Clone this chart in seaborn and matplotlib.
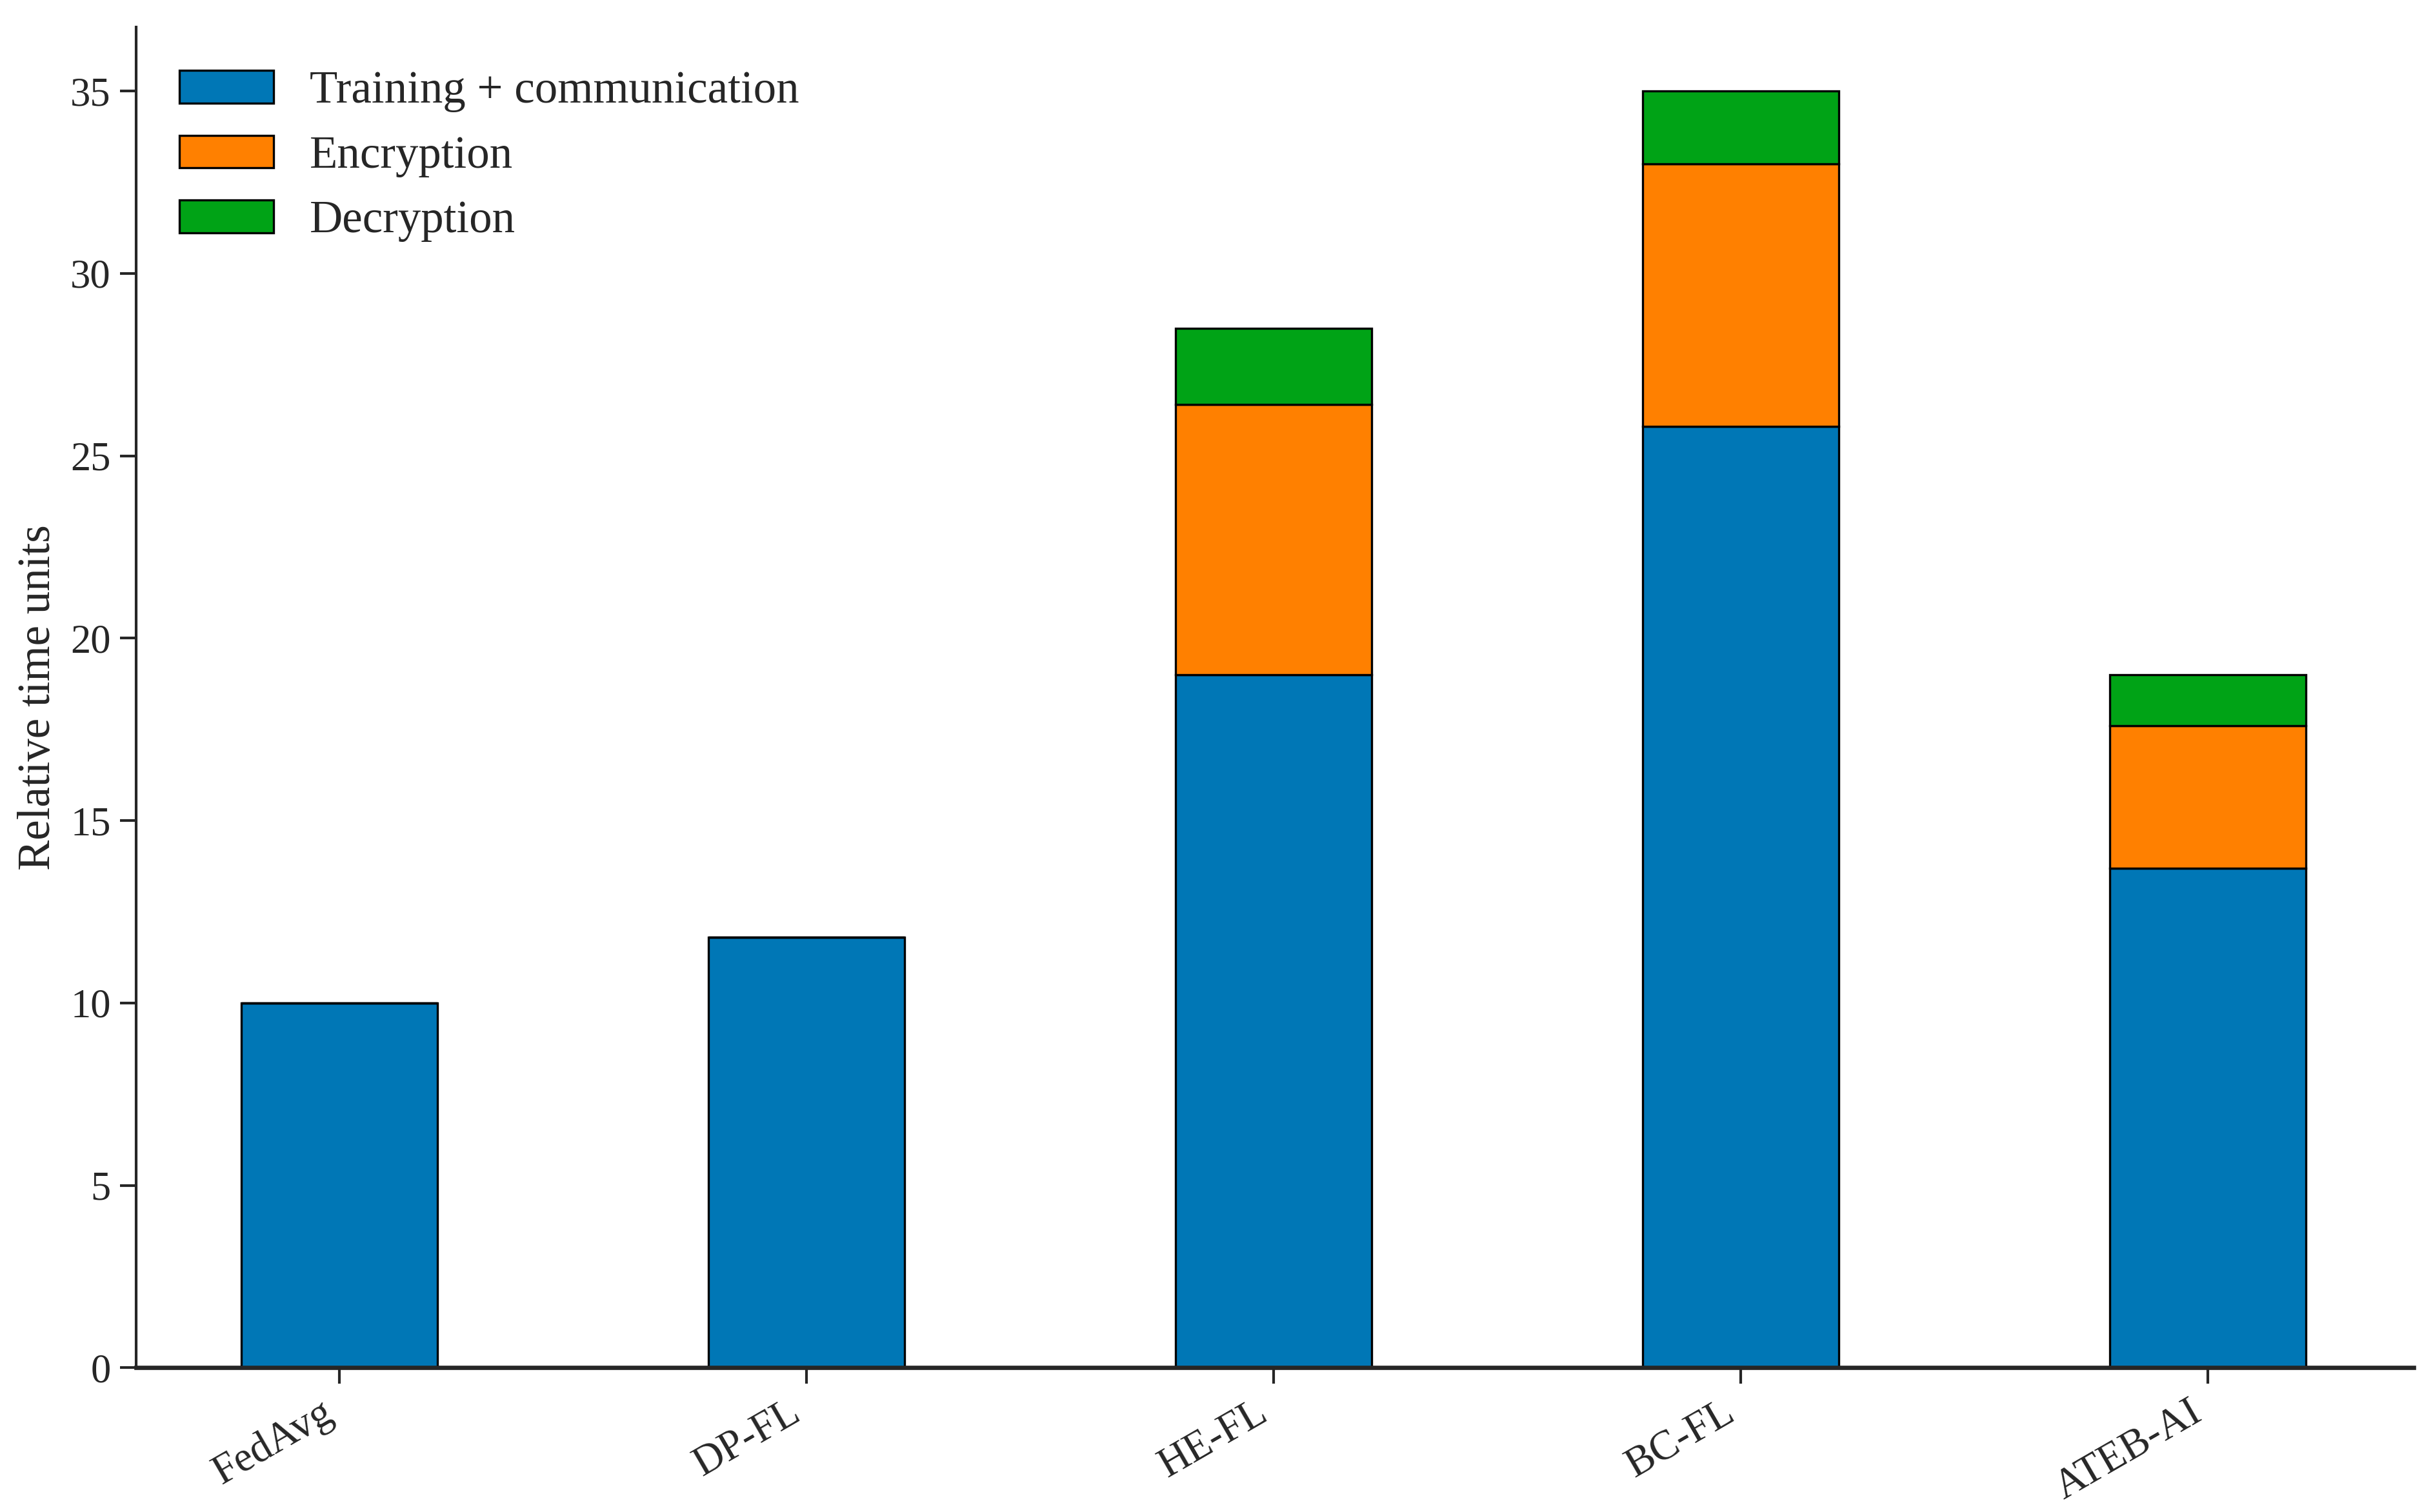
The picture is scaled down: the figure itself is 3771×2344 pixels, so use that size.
import numpy as np
import pandas as pd
import matplotlib
matplotlib.use("Agg")
import matplotlib.pyplot as plt
import seaborn as sns

methods = ["FedAvg", "DP-FL", "HE-FL", "BC-FL", "ATEB-AI"]
training_comm = [10.0, 11.8, 19.0, 25.8, 13.7]
encryption = [0.0, 0.0, 7.4, 7.2, 3.9]
decryption = [0.0, 0.0, 2.1, 2.0, 1.4]

series_names = ["Training + communication", "Encryption", "Decryption"]
series_colors = ["#0077b6", "#ff8000", "#00a316"]


def main() -> None:
    sns.set_style("ticks")
    plt.rcParams["font.family"] = ["Liberation Serif", "DejaVu Serif"]
    plt.rcParams["axes.linewidth"] = 1.0

    df = pd.DataFrame({
        "Method": methods,
        "Training + communication": training_comm,
        "Encryption": encryption,
        "Decryption": decryption,
    })

    fig, ax = plt.subplots(figsize=(3771 / 300, 2344 / 300), dpi=300)

    bottom = np.zeros(len(methods))
    for name, color in zip(series_names, series_colors):
        sns.barplot(data=df, x="Method", y=name, order=methods, color=color,
                    saturation=1, width=0.42, bottom=bottom, label=name,
                    edgecolor="black", linewidth=0.8, ax=ax)
        bottom = bottom + df[name].to_numpy()

    ax.set_xlim(-0.435, 4.44)
    ax.set_ylim(0, 36.75)
    ax.set_yticks([0, 5, 10, 15, 20, 25, 30, 35])
    ax.set_xlabel("")
    ax.set_ylabel("Relative time units", fontsize=17)
    ax.tick_params(axis="y", labelsize=15, length=6, width=1.0)
    ax.tick_params(axis="x", labelsize=15.5, length=6, width=1.0)
    plt.setp(ax.get_xticklabels(), rotation=30, ha="right")
    sns.despine(ax=ax)
    ax.spines["bottom"].set_linewidth(1.6)

    ax.legend(loc="upper left", frameon=False, fontsize=17,
              handlelength=2.05, handleheight=0.72, labelspacing=0.5,
              handletextpad=0.8, borderaxespad=0.55)

    fig.subplots_adjust(left=0.056, right=0.992, top=0.982, bottom=0.0954)
    fig.savefig("out.png", dpi=300)


if __name__ == "__main__":
    main()
